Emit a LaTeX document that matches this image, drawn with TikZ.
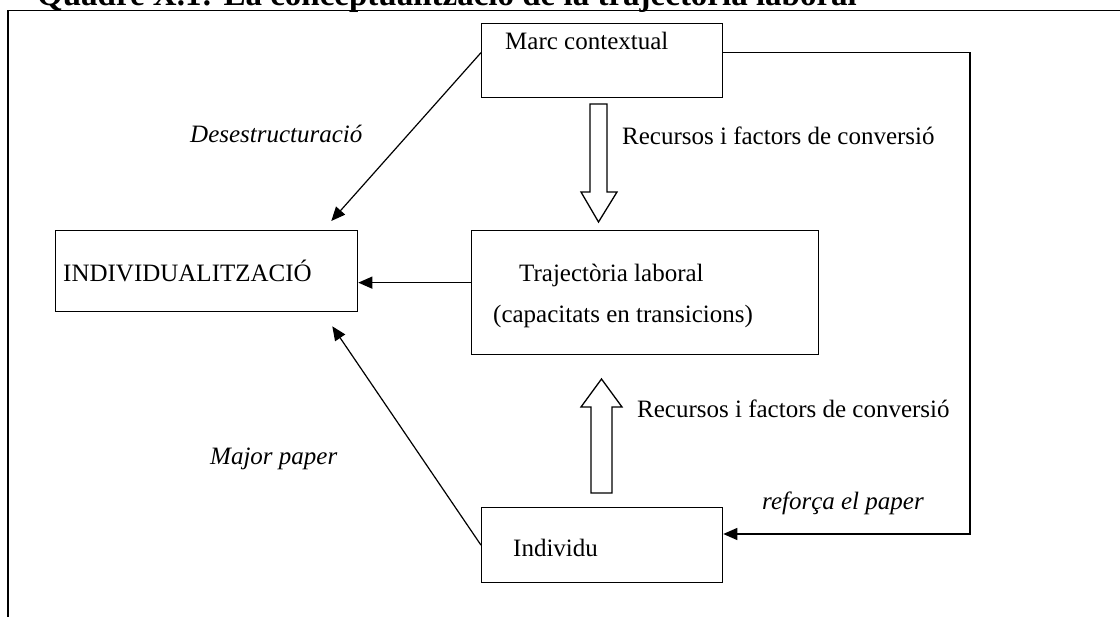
\documentclass[tikz,border=0pt]{standalone}
\usepackage{fontspec}
\setmainfont{Liberation Serif}
\usetikzlibrary{arrows.meta}
\begin{document}
\begin{tikzpicture}[x=1pt,y=-1pt]

      \tikzset{caixa/.style={draw, line width=1.3pt, inner sep=0pt, anchor=north west},
               txt/.style={inner sep=0pt, anchor=base west, font=\fontsize{25}{30}\selectfont},
               fletxa/.style={line width=1.2pt, -{Triangle[length=14pt,width=12pt]}},
               buida/.style={draw, line width=1.3pt, fill=white, line join=miter}}
      \useasboundingbox (0,0) rectangle (1120,617);
      \clip (0,0) rectangle (1120,617);
%% Marc
      	\draw[line width=1.4pt] (8,617) -- (8,10.5) -- (1120,10.5);
      	\node[inner sep=0pt, anchor=base west, font=\bfseries\fontsize{33}{38}\selectfont] (titol) at (37,5.5) {Quadre X.1: La conceptualització de la trajectòria laboral};
%% Caixes
      	\node[caixa, minimum width=241pt, minimum height=74pt] (marc) at (481,23) {};
      	\node[caixa, minimum width=302pt, minimum height=81pt] (indiv) at (55,230) {};
      	\node[caixa, minimum width=347pt, minimum height=124pt] (traj) at (471,230) {};
      	\node[caixa, minimum width=241pt, minimum height=75pt] (individu) at (481,507) {};
%% Textos
      	\node[txt] (tmarc) at (505,50) {Marc contextual};
      	\node[txt] (tindiv) at (63,282) {INDIVIDUALITZACIÓ};
      	\node[txt] (ttraj) at (519,282) {Trajectòria laboral};
      	\node[txt] (tcap) at (493,323) {(capacitats en transicions)};
      	\node[txt] (tindividu) at (513,557) {Individu};
      	\node[txt] (trec1) at (622,145) {Recursos i factors de conversió};
      	\node[txt] (trec2) at (637,418) {Recursos i factors de conversió};
      	\node[txt, font=\itshape\fontsize{25}{30}\selectfont] (tdes) at (190,143) {Desestructuració};
      	\node[txt, font=\itshape\fontsize{25}{30}\selectfont] (tmaj) at (210,465) {Major paper};
      	\node[txt, font=\itshape\fontsize{25}{30}\selectfont] (tref) at (762,510) {reforça el paper};
%% Fletxes buides
      	\draw[buida] (590,104) -- (607,104) -- (607,192) -- (617,192) -- (598.5,222) -- (581,192) -- (590,192) -- cycle;
      	\draw[buida] (591,493) -- (612,493) -- (612,407) -- (622,407) -- (601.5,379) -- (581,407) -- (591,407) -- cycle;
%% Fletxes
      	\coordinate (dreta) at (970,534);
		\draw[fletxa] ([yshift=8pt]marc.west) -- ([xshift=-27pt,yshift=9pt]indiv.north east);
		\draw[fletxa] ([yshift=10pt]traj.west) -- ([yshift=10pt]traj.west -| indiv.east);
		\draw[fletxa] (individu.west) -- ([xshift=-26pt,yshift=-14pt]indiv.south east);
		\draw[fletxa] ([yshift=8pt]marc.east) -| (dreta) -- (dreta -| individu.east);

	\end{tikzpicture}
\end{document}
